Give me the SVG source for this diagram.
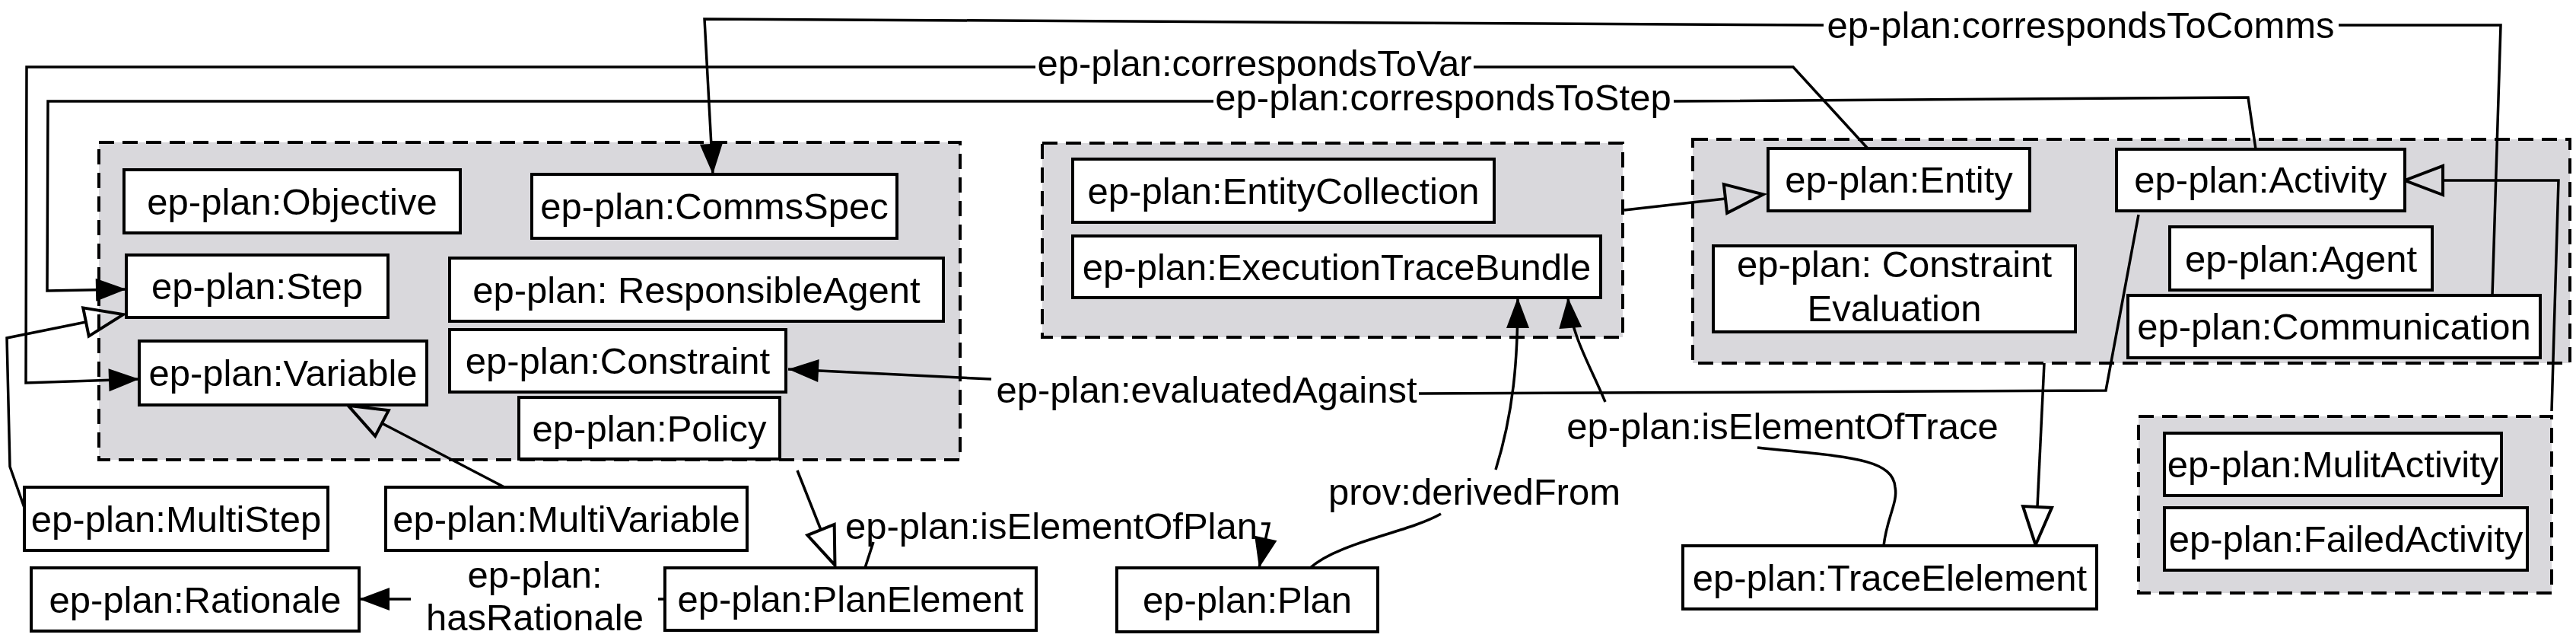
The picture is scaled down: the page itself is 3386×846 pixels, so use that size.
<svg xmlns="http://www.w3.org/2000/svg" width="3386" height="846" viewBox="0 0 3386 846">
<style>
.grp{fill:#d9d8dc;stroke:#000;stroke-width:4;stroke-dasharray:20 11}
.box{fill:#fff;stroke:#000;stroke-width:4}
.ln{fill:none;stroke:#000;stroke-width:3.5}
text{font-family:"Liberation Sans",Arial,sans-serif;font-size:49px;fill:#000;text-anchor:middle}
</style>
<defs>
<marker id="arr" markerUnits="userSpaceOnUse" markerWidth="42" markerHeight="32" refX="40" refY="15" orient="auto" overflow="visible"><path d="M0,0 L40,15 L0,30 z" fill="#000"/></marker>
<marker id="tri" markerUnits="userSpaceOnUse" markerWidth="56" markerHeight="44" refX="2" refY="21" orient="auto" overflow="visible"><path d="M2,2 L52,21 L2,40 z" fill="none" stroke="#000" stroke-width="4"/></marker>
</defs>
<g id="groups">
<rect class="grp" x="130" y="187" width="1132" height="417"/>
<rect class="grp" x="1370" y="188" width="763" height="255"/>
<rect class="grp" x="2225" y="183" width="1153" height="294"/>
<rect class="grp" x="2811" y="547" width="543" height="232"/>
</g>
<g id="connectors">
<path class="ln" d="M3276,388 L3287,33 L3074,33"/>
<path class="ln" d="M2397,33 L926,25 L937,229" marker-end="url(#arr)"/>
<path class="ln" d="M2455,195 L2357,88 L1937,88"/>
<path class="ln" d="M1361,88 L35,88 L34,503 L183,498" marker-end="url(#arr)"/>
<path class="ln" d="M2965,196 L2955,128 L2200,133"/>
<path class="ln" d="M1595,133 L63,133 L62,382 L166,380" marker-end="url(#arr)"/>
<path class="ln" d="M2811,282 L2768,513 L1865,517"/>
<path class="ln" d="M1303,498 L1036,485" marker-end="url(#arr)"/>
<path class="ln" d="M1137,746 L1148,712"/>
<path class="ln" d="M1658,688 L1668,688 L1655,746" marker-end="url(#arr)"/>
<path class="ln" d="M874,787 L865,787"/>
<path class="ln" d="M540,787 L472,787" marker-end="url(#arr)"/>
<path class="ln" d="M1048,618 L1079,696" marker-end="url(#tri)"/>
<path class="ln" d="M32,667 L13,613 L9,444 L113,423" marker-end="url(#tri)"/>
<path class="ln" d="M663,640 L502,556" marker-end="url(#tri)"/>
<path class="ln" d="M1722,746 C1760,712 1850,700 1894,675"/>
<path class="ln" d="M1966,617 C1990,540 1995,470 1995,391" marker-end="url(#arr)"/>
<path class="ln" d="M2476,717 C2480,680 2495,660 2491,640 C2488,600 2420,600 2310,588"/>
<path class="ln" d="M2110,528 C2090,480 2065,440 2061,391" marker-end="url(#arr)"/>
<path class="ln" d="M2135,276 L2268,261" marker-end="url(#tri)"/>
<path class="ln" d="M2687,477 L2678,666" marker-end="url(#tri)"/>
<path class="ln" d="M3354,540 L3363,237 L3211,237" marker-end="url(#tri)"/>
<text x="2735" y="50">ep-plan:correspondsToComms</text>
<text x="1649" y="100">ep-plan:correspondsToVar</text>
<text x="1897" y="145">ep-plan:correspondsToStep</text>
<text x="1586" y="529">ep-plan:evaluatedAgainst</text>
<text x="1938" y="663">prov:derivedFrom</text>
<text x="2343" y="577">ep-plan:isElementOfTrace</text>
<text x="1382" y="708">ep-plan:isElementOfPlan</text>
<text x="703" y="772">ep-plan:</text>
<text x="703" y="828">hasRationale</text>
</g>
<g id="n-objective"><rect class="box" x="163" y="223" width="442" height="83"/><text x="384" y="282">ep-plan:Objective</text></g>
<g id="n-commsspec"><rect class="box" x="699" y="229" width="480" height="84"/><text x="939" y="288">ep-plan:CommsSpec</text></g>
<g id="n-step"><rect class="box" x="166" y="335" width="344" height="82"/><text x="338" y="393">ep-plan:Step</text></g>
<g id="n-responsibleagent"><rect class="box" x="591" y="339" width="649" height="83"/><text x="915.5" y="398">ep-plan: ResponsibleAgent</text></g>
<g id="n-variable"><rect class="box" x="183" y="448" width="378" height="84"/><text x="372" y="507">ep-plan:Variable</text></g>
<g id="n-constraint"><rect class="box" x="591" y="433" width="442" height="82"/><text x="812" y="491">ep-plan:Constraint</text></g>
<g id="n-policy"><rect class="box" x="682" y="522" width="343" height="81"/><text x="853.5" y="580">ep-plan:Policy</text></g>
<g id="n-multistep"><rect class="box" x="32" y="640" width="399" height="83"/><text x="231.5" y="699">ep-plan:MultiStep</text></g>
<g id="n-multivariable"><rect class="box" x="507" y="640" width="475" height="83"/><text x="744.5" y="699">ep-plan:MultiVariable</text></g>
<g id="n-rationale"><rect class="box" x="41" y="746" width="431" height="83"/><text x="256.5" y="805">ep-plan:Rationale</text></g>
<g id="n-planelement"><rect class="box" x="874" y="746" width="488" height="82"/><text x="1118" y="804">ep-plan:PlanElement</text></g>
<g id="n-plan"><rect class="box" x="1468" y="746" width="343" height="84"/><text x="1639.5" y="805">ep-plan:Plan</text></g>
<g id="n-entitycollection"><rect class="box" x="1410" y="209" width="554" height="83"/><text x="1687" y="268">ep-plan:EntityCollection</text></g>
<g id="n-executiontracebundle"><rect class="box" x="1410" y="310" width="694" height="81"/><text x="1757" y="368">ep-plan:ExecutionTraceBundle</text></g>
<g id="n-entity"><rect class="box" x="2324" y="195" width="344" height="82"/><text x="2496" y="253">ep-plan:Entity</text></g>
<g id="n-activity"><rect class="box" x="2782" y="196" width="379" height="81"/><text x="2971.5" y="253">ep-plan:Activity</text></g>
<g id="n-constraintevaluation"><rect class="box" x="2252" y="323" width="476" height="113"/><text x="2490" y="364">ep-plan: Constraint</text><text x="2490" y="422">Evaluation</text></g>
<g id="n-agent"><rect class="box" x="2852" y="298" width="345" height="83"/><text x="3024.5" y="357">ep-plan:Agent</text></g>
<g id="n-communication"><rect class="box" x="2797" y="388" width="542" height="82"/><text x="3068" y="446">ep-plan:Communication</text></g>
<g id="n-traceelelement"><rect class="box" x="2212" y="717" width="544" height="83"/><text x="2484" y="776">ep-plan:TraceElelement</text></g>
<g id="n-mulitactivity"><rect class="box" x="2845" y="569" width="443" height="82"/><text x="3066.5" y="627">ep-plan:MulitActivity</text></g>
<g id="n-failedactivity"><rect class="box" x="2845" y="667" width="477" height="82"/><text x="3083.5" y="725">ep-plan:FailedActivity</text></g>
</svg>
